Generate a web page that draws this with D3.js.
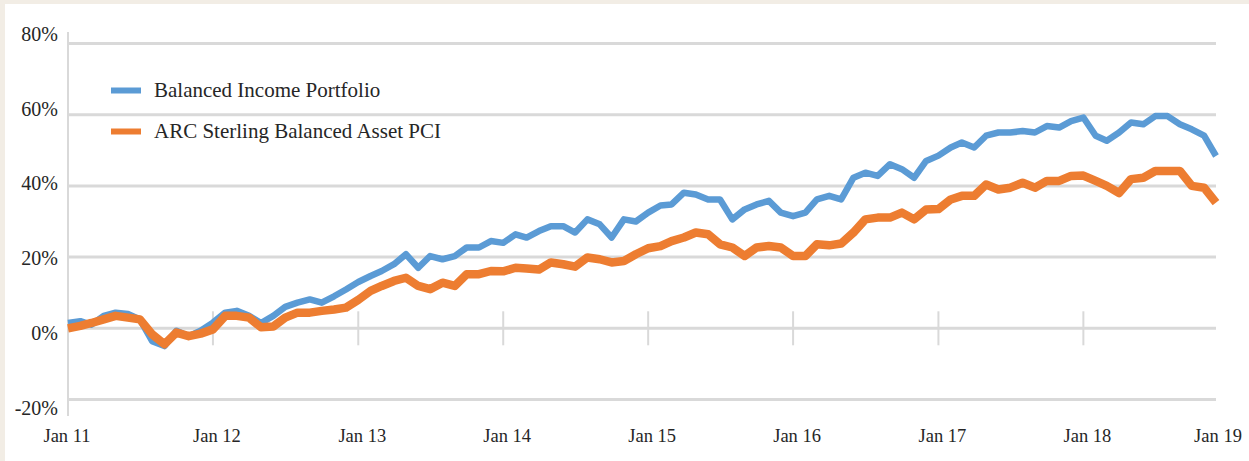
<!DOCTYPE html>
<html>
<head>
<meta charset="utf-8">
<script src="https://cdn.jsdelivr.net/npm/d3@7"></script>
<style>
  body { margin: 0; background: #f2ede5; }
  svg { display: block; }
  text { font-family: "Liberation Serif", "Times New Roman", serif; fill: #262626; }
</style>
</head>
<body>
<div id="chart"></div>
<script>
// monthly readings, Jan 2011 .. Dec 2018 (cumulative return, %)
var seriesNames = ["Balanced Income Portfolio", "ARC Sterling Balanced Asset PCI"];
var seriesColors = ["#5b9bd5", "#ed7d31"];

var balancedIncome = [
  1.5, 2.0, 1.0, 3.5, 4.4, 4.0, 2.5, -3.6, -5.0, -0.7, -2.2, -0.7,
  1.6, 4.4, 4.9, 3.5, 1.5, 3.5, 6.0, 7.2, 8.1, 7.2, 9.0, 10.9,
  13.0, 14.7, 16.1, 18.0, 20.8, 17.0, 20.3, 19.4, 20.3, 22.7, 22.7, 24.5,
  24.0, 26.4, 25.5, 27.3, 28.7, 28.7, 26.9, 30.6, 29.2, 25.5, 30.6, 30.0,
  32.5, 34.5, 34.8, 38.1, 37.6, 36.2, 36.2, 30.6, 33.4, 34.8, 35.8, 32.5,
  31.5, 32.5, 36.2, 37.2, 36.2, 42.3, 43.7, 42.8, 46.1, 44.7, 42.3, 47.0,
  48.5, 50.8, 52.2, 50.8, 54.1, 55.0, 55.0, 55.4, 55.0, 56.8, 56.4, 58.2,
  59.2, 54.1, 52.7, 55.0, 57.8, 57.3, 59.6, 59.6, 57.3, 55.9, 54.1, 48.4
];

var arcSterling = [
  0.0, 0.7, 1.5, 2.5, 3.5, 3.0, 2.5, -1.7, -4.5, -1.2, -2.2, -1.5,
  -0.3, 3.5, 3.5, 3.0, 0.3, 0.5, 3.0, 4.4, 4.4, 4.9, 5.3, 5.8,
  8.0, 10.5, 11.9, 13.3, 14.2, 11.9, 11.0, 12.8, 11.9, 15.2, 15.2, 16.1,
  16.0, 17.0, 16.8, 16.5, 18.5, 18.0, 17.3, 19.9, 19.4, 18.5, 18.9, 20.8,
  22.5, 23.1, 24.5, 25.5, 26.9, 26.4, 23.6, 22.7, 20.3, 22.7, 23.1, 22.7,
  20.3, 20.3, 23.6, 23.3, 23.8, 26.9, 30.6, 31.1, 31.1, 32.5, 30.6, 33.4,
  33.5, 36.2, 37.2, 37.2, 40.4, 39.0, 39.5, 40.9, 39.5, 41.4, 41.4, 42.8,
  42.9, 41.4, 40.0, 38.0, 41.9, 42.3, 44.2, 44.2, 44.2, 40.0, 39.5, 35.3
];

var yTicks = [-20, 0, 20, 40, 60, 80];
var xTickLabels = ["Jan 11", "Jan 12", "Jan 13", "Jan 14", "Jan 15", "Jan 16", "Jan 17", "Jan 18", "Jan 19"];

var width = 1249, height = 461;
var startDate = new Date(2011, 0, 1), endDate = new Date(2018, 11, 1);
var dates = d3.timeMonth.range(startDate, new Date(2019, 0, 1));

var svg = d3.select("#chart").append("svg")
    .attr("width", width)
    .attr("height", height);

// cream frame + white panel
svg.append("rect").attr("width", width).attr("height", height).attr("fill", "#f2ede5");
svg.append("rect").attr("x", 5).attr("y", 4).attr("width", width - 5).attr("height", height - 4).attr("fill", "#ffffff");

var x = d3.scaleTime().domain([startDate, endDate]).range([68, 1216]);
var y = d3.scaleLinear().domain([-20, 80]).range([399.5, 43.5]);
// Excel spaces the value labels a little differently than the gridlines
var yLabel = d3.scaleLinear().domain([-20, 80]).range([415, 40.7]);

// gridlines
svg.append("g").selectAll("line").data(yTicks).join("line")
    .attr("x1", 68).attr("x2", 1216)
    .attr("y1", function(d) { return y(d); })
    .attr("y2", function(d) { return y(d); })
    .attr("stroke", "#d9d9d9")
    .attr("stroke-width", 3);

// vertical axis line
svg.append("line")
    .attr("x1", 68).attr("x2", 68).attr("y1", 32).attr("y2", 416)
    .attr("stroke", "#d9d9d9").attr("stroke-width", 2);

// year tick marks crossing the 0% line
var yearTicks = d3.timeYear.range(new Date(2012, 0, 1), new Date(2019, 0, 1));
svg.append("g").selectAll("line").data(yearTicks).join("line")
    .attr("x1", function(d) { return x(d); })
    .attr("x2", function(d) { return x(d); })
    .attr("y1", y(0) - 17).attr("y2", y(0) + 17)
    .attr("stroke", "#d9d9d9").attr("stroke-width", 2);

// y labels
svg.append("g").selectAll("text").data(yTicks).join("text")
    .attr("x", 58)
    .attr("y", function(d) { return yLabel(d); })
    .attr("text-anchor", "end")
    .attr("font-size", "20px")
    .text(function(d) { return d + "%"; });

// x labels (last one sits at the end of the axis)
var labelDates = d3.timeYear.range(startDate, new Date(2019, 0, 1));
svg.append("g").selectAll("text").data(xTickLabels).join("text")
    .attr("x", function(d, i) { return i < labelDates.length ? x(labelDates[i]) + (i > 0 ? 4 : -1) : 1218; })
    .attr("y", 442)
    .attr("text-anchor", "middle")
    .attr("font-size", "18.5px")
    .text(function(d) { return d; });

// lines
var line = d3.line()
    .x(function(d, i) { return x(dates[i]); })
    .y(function(d) { return y(d); });

[balancedIncome, arcSterling].forEach(function(s, k) {
    svg.append("path")
        .datum(s)
        .attr("d", line)
        .attr("fill", "none")
        .attr("stroke", seriesColors[k])
        .attr("stroke-width", k === 0 ? 6.5 : 8.5)
        .attr("stroke-linejoin", "round");
});

// legend
var legendY = [90.5, 131.5];
seriesNames.forEach(function(name, k) {
    svg.append("line")
        .attr("x1", 111).attr("x2", 141)
        .attr("y1", legendY[k]).attr("y2", legendY[k])
        .attr("stroke", seriesColors[k]).attr("stroke-width", 6);
    svg.append("text")
        .attr("x", 154).attr("y", legendY[k] + 6.5)
        .attr("font-size", "21px")
        .text(name);
});
</script>
</body>
</html>
